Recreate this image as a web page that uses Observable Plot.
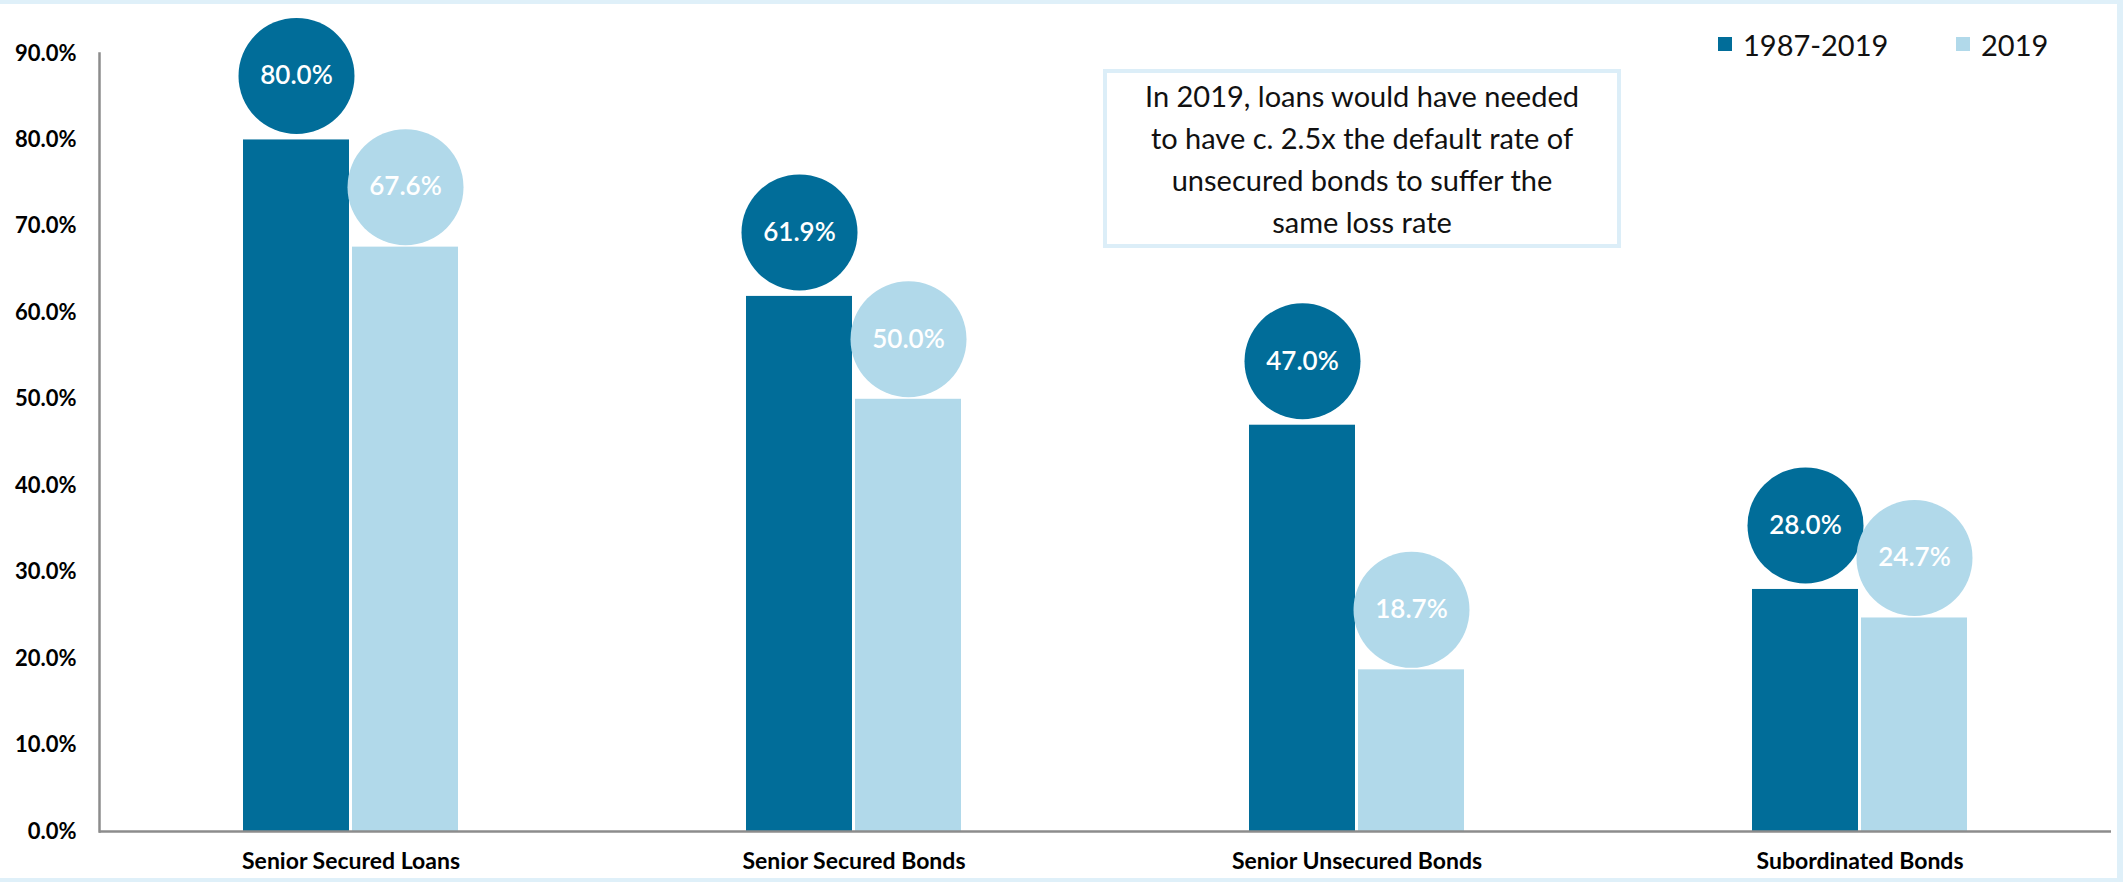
<!DOCTYPE html>
<html>
<head>
<meta charset="utf-8">
<script src="https://cdn.jsdelivr.net/npm/d3@7"></script>
<script src="https://cdn.jsdelivr.net/npm/@observablehq/plot@0.6"></script>
<style>
  html, body { margin: 0; padding: 0; background: #fff; }
  #wrap { position: relative; width: 2123px; height: 882px; overflow: hidden; font-family: Lato, "Open Sans", sans-serif; }
  #border { position: absolute; left: 0; top: 0; width: 2123px; height: 882px; box-sizing: border-box;
            border-top: 4px solid #dff0f9; border-right: 6px solid #dff0f9; border-bottom: 4px solid #dff0f9; pointer-events: none; }
  .legend { position: absolute; top: 24px; height: 40px; display: flex; align-items: center; font-size: 29px; color: #111; }
  .legend .sw { width: 14px; height: 14px; display: inline-block; margin-right: 11px; }
  #note { position: absolute; left: 1103px; top: 69px; width: 518px; height: 179px; box-sizing: border-box;
          border: 4px solid #dceef8; background: #fff; display: flex; align-items: center; justify-content: center;
          text-align: center; font-size: 29px; line-height: 42px; color: #111; }
</style>
</head>
<body>
<div id="wrap">
  <div id="chart"></div>
  <div id="note"></div>
  <div id="leg1" class="legend" style="left:1718px"></div>
  <div id="leg2" class="legend" style="left:1956px"></div>
  <div id="border"></div>
</div>
<script>
const categories = ["Senior Secured Loans", "Senior Secured Bonds", "Senior Unsecured Bonds", "Subordinated Bonds"];
const series = ["1987-2019", "2019"];
const values1987_2019 = [80.0, 61.9, 47.0, 28.0];
const values2019 = [67.6, 50.0, 18.7, 24.7];
const yTicks = [0, 10, 20, 30, 40, 50, 60, 70, 80, 90];
const seriesColors = ["#016d99", "#b1d9ea"];
const noteLines = ["In 2019, loans would have needed", "to have c. 2.5x the default rate of", "unsecured bonds to suffer the", "same loss rate"];

const rows = [];
categories.forEach((c, i) => {
  rows.push({category: c, series: series[0], value: values1987_2019[i]});
  rows.push({category: c, series: series[1], value: values2019[i]});
});
const darkRows = rows.filter(d => d.series === series[0]);
const lightRows = rows.filter(d => d.series === series[1]);
const fmt = d => d.toFixed(1) + "%";

const chart = Plot.plot({
  width: 2123,
  height: 882,
  marginLeft: 98,
  marginRight: 11,
  marginTop: 53,
  marginBottom: 51,
  style: {fontFamily: "Lato, 'Open Sans', sans-serif", fontSize: "22px", fontWeight: "bold", color: "#000", background: "transparent"},
  fx: {domain: categories, padding: 0, label: null},
  x: {domain: series, paddingInner: 0.027, paddingOuter: 1.3, axis: null},
  y: {domain: [0, 90], axis: null},
  color: {domain: series, range: seriesColors},
  marks: [
    Plot.barY(rows, {fx: "category", x: "series", y: "value", fill: "series"}),
    Plot.ruleY([0], {stroke: "#8c8c8c", strokeWidth: 2.5}),
    Plot.frame({anchor: "left", facetAnchor: "left", stroke: "#8c8c8c", strokeWidth: 2.5}),
    Plot.axisY({ticks: yTicks, tickFormat: fmt, tickSize: 0, tickPadding: 23, label: null}),
    Plot.axisFx({anchor: "bottom", tickSize: 0, tickPadding: 21, label: null, fontSize: 23}),
    Plot.dot(darkRows, {fx: "category", x: "series", y: "value", r: 58, fill: "series", dy: -64}),
    Plot.dot(lightRows, {fx: "category", x: "series", y: "value", r: 58, fill: "series", dy: -60}),
    Plot.text(darkRows, {fx: "category", x: "series", y: "value", text: d => fmt(d.value), fill: "white", fontSize: 26, fontWeight: 600, dy: -64}),
    Plot.text(lightRows, {fx: "category", x: "series", y: "value", text: d => fmt(d.value), fill: "white", fontSize: 26, fontWeight: 600, dy: -60})
  ]
});
document.getElementById("chart").appendChild(chart);

document.getElementById("note").innerHTML = noteLines.join("<br>");
document.getElementById("leg1").innerHTML = `<span class="sw" style="background:${seriesColors[0]}"></span>${series[0]}`;
document.getElementById("leg2").innerHTML = `<span class="sw" style="background:${seriesColors[1]}"></span>${series[1]}`;
</script>
</body>
</html>
